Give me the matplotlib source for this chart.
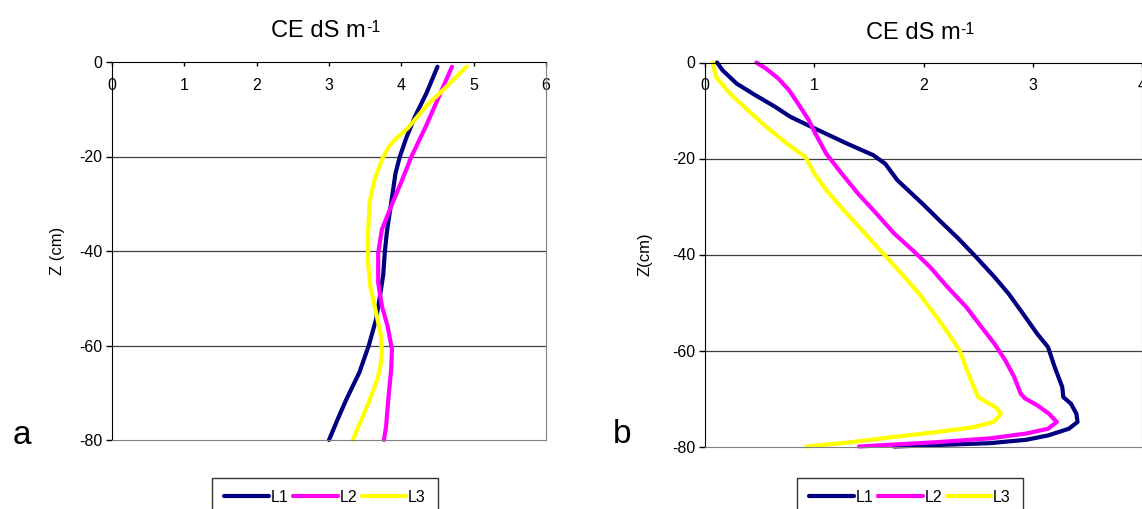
import numpy as np
import matplotlib.pyplot as plt

plt.rcParams['font.family'] = ['Liberation Sans', 'DejaVu Sans']
plt.rcParams['axes.unicode_minus'] = False

# panel a: CE (dS m-1) versus depth Z (cm)
a_l1_ce = [4.50, 4.35, 4.19, 4.07, 3.98, 3.92, 3.88, 3.80, 3.77, 3.75, 3.70, 3.65,
           3.55, 3.42, 3.24, 3.12, 3.00]
a_l1_z = [-1, -6.5, -11.5, -16, -20, -23.5, -27.7, -36, -40.5, -45, -50, -54.5,
          -60, -65.7, -71.4, -75.6, -80]
a_l2_ce = [4.70, 4.52, 4.34, 4.14, 4.01, 3.86, 3.73, 3.68, 3.68, 3.73, 3.81, 3.87,
           3.86, 3.82, 3.79, 3.76]
a_l2_z = [-1, -7.3, -13.6, -20, -25, -30.5, -35.5, -40.4, -46.7, -51.6, -55.9, -60.8,
          -65, -71.4, -77, -80]
a_l3_ce = [4.90, 4.60, 4.34, 4.09, 3.92, 3.83, 3.73, 3.63, 3.56, 3.54, 3.54, 3.57,
           3.65, 3.72, 3.73, 3.71, 3.67, 3.55, 3.45, 3.33]
a_l3_z = [-1, -5.6, -9.4, -14, -16.3, -17.9, -20.7, -24.9, -29.8, -36.2, -42.5, -47.4,
          -53, -58, -61.5, -64.5, -67.1, -72, -75.6, -80]

# panel b
b_l1_ce = [0.11, 0.16, 0.29, 0.46, 0.64, 0.78, 1.01, 1.31, 1.54, 1.65, 1.76, 1.99,
           2.16, 2.32, 2.48, 2.65, 2.78, 2.91, 3.04, 3.14, 3.20, 3.27, 3.28, 3.35,
           3.40, 3.41, 3.33, 3.14, 2.94, 2.61, 2.12, 1.73]
b_l1_z = [0, -1.6, -4.4, -6.8, -9.2, -11.3, -13.8, -17.0, -19.3, -21.1, -24.5, -29.4,
          -33.2, -36.7, -40.5, -44.7, -48.2, -52.3, -56.5, -59.3, -63.4, -67.6, -69.7,
          -71.1, -73.2, -74.9, -76.3, -77.7, -78.6, -79.3, -79.7, -80]
b_l2_ce = [0.47, 0.56, 0.67, 0.77, 0.85, 0.95, 1.01, 1.11, 1.25, 1.40, 1.57, 1.73,
           1.90, 2.06, 2.22, 2.39, 2.53, 2.65, 2.75, 2.83, 2.89, 2.93, 3.04, 3.15,
           3.22, 3.14, 2.94, 2.61, 2.12, 1.41]
b_l2_z = [0, -1.3, -3.3, -5.8, -8.5, -12.0, -14.8, -19.0, -23.1, -27.3, -31.5, -35.6,
          -39.1, -42.6, -46.8, -50.9, -55.1, -58.6, -62.1, -65.5, -69.0, -70.0, -71.4,
          -73.2, -74.9, -76.3, -77.3, -78.3, -79.1, -80]
b_l3_ce = [0.07, 0.10, 0.23, 0.39, 0.56, 0.75, 0.92, 1.00, 1.11, 1.27, 1.44, 1.63,
           1.80, 1.96, 2.12, 2.25, 2.33, 2.40, 2.46, 2.50, 2.55, 2.66, 2.71, 2.64,
           2.45, 2.12, 1.73, 1.34, 0.93]
b_l3_z = [0, -3.0, -6.5, -9.9, -13.4, -16.9, -19.7, -23.1, -26.6, -30.8, -35.0, -39.8,
          -44.0, -48.2, -53.0, -57.2, -60.0, -64.2, -67.6, -69.7, -70.4, -71.8, -73.2,
          -74.9, -76.0, -77.0, -78.0, -79.1, -80]

labels = ['L1', 'L2', 'L3']
colors = ['#000080', '#ff00ff', '#ffff00']
z_ticks = [0, -20, -40, -60, -80]

fig = plt.figure(figsize=(11.42, 5.09), dpi=100)
ax_a = fig.add_axes([112 / 1142, 1 - 440 / 509, 434 / 1142, 378 / 509])
ax_b = fig.add_axes([705 / 1142, 1 - 446.5 / 509, 437 / 1142, 384 / 509])

panels = [
    (ax_a, [(a_l1_ce, a_l1_z), (a_l2_ce, a_l2_z), (a_l3_ce, a_l3_z)], 6, 'Z (cm)', 10,
     'a', -0.230, -0.011, 325, 31),
    (ax_b, [(b_l1_ce, b_l1_z), (b_l2_ce, b_l2_z), (b_l3_ce, b_l3_z)], 4, 'Z(cm)', 14,
     'b', -0.210, 0.009, 910, 33),
]

for ax, series, xmax, ylab, lpad, letter, lx, ly, legx, ty in panels:
    for (ce, z), lab, col in zip(series, labels, colors):
        ax.plot(ce, z, color=col, lw=3, label=lab, solid_capstyle='round',
                solid_joinstyle='round', clip_on=False)
    ax.set_xlim(0, xmax)
    ax.set_ylim(-80, 0)
    ax.set_xticks(range(xmax + 1))
    ax.set_yticks(z_ticks)
    for z in [-20, -40, -60]:
        ax.axhline(z, color='#404040', lw=0.9, zorder=0)
    ax.xaxis.tick_top()
    ax.tick_params(axis='x', direction='in', length=3, width=1, labelsize=11.5,
                   pad=-22, colors='black')
    ax.tick_params(axis='y', direction='out', length=4, width=1, labelsize=11.5, pad=3)
    ax.spines['top'].set_color('black')
    ax.spines['left'].set_color('black')
    ax.spines['bottom'].set_color('#808080')
    ax.spines['right'].set_color('#808080')
    ax.set_ylabel(ylab, fontsize=12, labelpad=lpad)

    pos = ax.get_position()
    title = ax.text((pos.x0 + pos.x1) / 2 - 0.009, 1 - ty / 509, 'CE dS m',
                    transform=fig.transFigure, fontsize=17, ha='center', va='center')
    ax.annotate('-1', xy=(1.0, 1.0), xycoords=title, fontsize=11.5,
                ha='left', va='top')

    ax.text(lx, ly, letter, transform=ax.transAxes, fontsize=24,
            ha='left', va='baseline')

    fig.legend(*ax.get_legend_handles_labels(), loc='upper center',
               bbox_to_anchor=(legx / 1142, 1 - 478 / 509), ncol=3, fontsize=11.5,
               frameon=True, fancybox=False, edgecolor='black', handlelength=2.8,
               handletextpad=0.1, columnspacing=0.3, borderpad=0.75,
               borderaxespad=0)

fig.savefig('out.png', dpi=100)
